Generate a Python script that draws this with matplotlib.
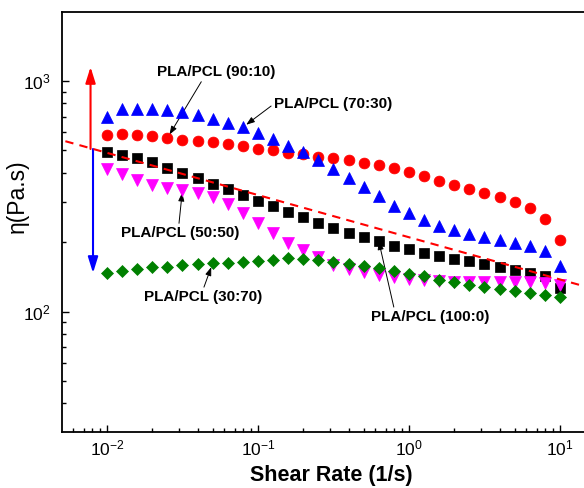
import numpy as np
import matplotlib.pyplot as plt

plt.rcParams['font.family'] = ['Liberation Sans', 'DejaVu Sans']
plt.rcParams['mathtext.default'] = 'regular'

# shear rate (1/s), 10 points per decade
shear = [0.01, 0.0126, 0.0158, 0.02, 0.0251, 0.0316, 0.0398, 0.0501, 0.0631, 0.0794,
         0.1, 0.126, 0.158, 0.2, 0.251, 0.316, 0.398, 0.501, 0.631, 0.794,
         1.0, 1.26, 1.58, 2.0, 2.51, 3.16, 3.98, 5.01, 6.31, 7.94, 10.0]

# viscosity (Pa.s)
eta_100_0 = [491, 476, 462, 447, 418, 398, 378, 358, 339, 321,
             303, 288, 271, 258, 243, 231, 220, 210, 202, 193,
             187, 180, 175, 169, 165, 161, 156, 151, 147, 142, 126]
eta_90_10 = [583, 589, 585, 578, 565, 555, 550, 542, 532, 524,
             506, 500, 489, 480, 470, 462, 455, 443, 433, 419,
             404, 388, 369, 354, 339, 328, 315, 300, 281, 251, 205]
eta_70_30 = [700, 754, 754, 754, 748, 736, 712, 684, 659, 630,
             597, 561, 525, 490, 455, 417, 380, 347, 316, 288,
             268, 250, 235, 226, 218, 211, 205, 199, 193, 184, 158]
eta_50_50 = [414, 396, 371, 354, 345, 337, 326, 315, 293, 268,
             242, 219, 199, 185, 173, 159, 153, 148, 144, 141,
             139, 137, 136, 135, 135, 134, 134, 134, 134, 133, 131]
eta_30_70 = [147.6, 150.6, 152.7, 155.7, 156.7, 158.9, 160.9, 162.1, 163, 164.8,
             166, 168, 170, 168.5, 167, 164, 161.5, 158, 154, 150.6,
             145, 142, 137, 134, 131, 128, 125, 123, 120, 118, 116]

# dashed guide line (end points)
guide_x = [5.3e-3, 16.0]
guide_y = [548, 126.5]

# vertical red / blue arrows
arrow_red_x, arrow_red = 7.78e-3, [507, 1150]
arrow_blue_x, arrow_blue = 8.08e-3, [507, 147]

fig = plt.figure(figsize=(5.84, 4.88), dpi=100)
ax = fig.add_axes([62 / 584, 56 / 488, 528 / 584, 420 / 488])
ax.set_xscale('log')
ax.set_yscale('log')

ax.plot(guide_x, guide_y, color='red', lw=1.5, dashes=(4, 3), zorder=4)

ax.plot(shear, eta_100_0, 's', color='black', ms=6.8, mew=0.5, zorder=3)
ax.plot(shear, eta_90_10, 'o', color='red', ms=7.8, mew=0.5, zorder=3)
ax.plot(shear, eta_70_30, '^', color='blue', ms=8.2, mew=0.5, zorder=3)
ax.plot(shear, eta_50_50, 'v', color='magenta', ms=8.2, mew=0.5, zorder=3)
ax.plot(shear, eta_30_70, 'D', color='#008000', ms=6.6, mew=0.5, zorder=3)

big_head = '-|>,head_length=0.8,head_width=0.25'
ax.annotate('', xy=(arrow_red_x, arrow_red[1]), xytext=(arrow_red_x, arrow_red[0]),
            arrowprops=dict(arrowstyle=big_head, color='red', lw=1.5,
                            mutation_scale=12, shrinkA=0, shrinkB=0))
ax.annotate('', xy=(arrow_blue_x, arrow_blue[1]), xytext=(arrow_blue_x, arrow_blue[0]),
            arrowprops=dict(arrowstyle=big_head, color='blue', lw=1.5,
                            mutation_scale=12, shrinkA=0, shrinkB=0))

# labels: text, series, point index, text position, arrow start on text box, tip gap
labels = ['PLA/PCL (90:10)', 'PLA/PCL (70:30)', 'PLA/PCL (50:50)',
          'PLA/PCL (30:70)', 'PLA/PCL (100:0)']
label_series = [eta_90_10, eta_70_30, eta_50_50, eta_30_70, eta_100_0]
label_idx = [4, 9, 5, 7, 18]
label_pos = [(0.0527, 1094), (0.314, 795), (0.0304, 219), (0.0432, 115.8), (1.377, 94.9)]
label_rel = [(0.39, 0.0), (0.0, 0.5), (0.49, 1.0), (0.5, 1.0), (0.2, 1.0)]
label_gap = [3, 3, 2, 3, 0]

for txt, ser, k, pos, rel, gap in zip(labels, label_series, label_idx,
                                      label_pos, label_rel, label_gap):
    ax.annotate(txt, xy=(shear[k], ser[k]), xytext=pos, ha='center', va='center',
                fontsize=11, fontweight='bold', zorder=2.5,
                arrowprops=dict(arrowstyle='-|>,head_length=0.5,head_width=0.18',
                                color='black', lw=0.7, mutation_scale=10,
                                relpos=rel, shrinkA=0, shrinkB=gap))

ax.set_xlim(10 ** -2.298, 10 ** 1.199)
ax.set_ylim(10 ** 1.478, 10 ** 3.299)

ax.tick_params(which='both', direction='in', top=False, right=False, width=1)
ax.tick_params(which='major', length=5, labelsize=12.5)
ax.tick_params(axis='x', which='major', pad=5)
ax.tick_params(axis='y', which='major', pad=8)
ax.tick_params(which='minor', length=3)
for side in ['left', 'bottom', 'top']:
    ax.spines[side].set_linewidth(1.3)
ax.spines['right'].set_visible(False)

ax.set_xlabel('Shear Rate (1/s)', fontsize=15.5, fontweight='bold')
ax.set_ylabel('η(Pa.s)', fontsize=16.5)
ax.xaxis.set_label_coords(0.511, -0.078)
ax.yaxis.set_label_coords(-0.062, 0.562)

fig.savefig('out.png', dpi=100)
